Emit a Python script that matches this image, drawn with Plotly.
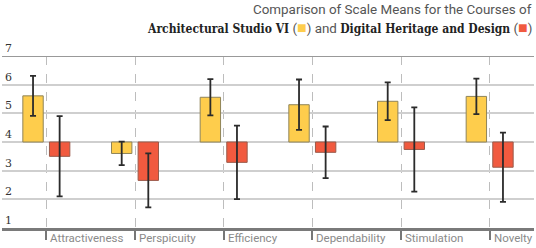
import plotly.graph_objects as go

categories = ["Attractiveness", "Perspicuity", "Efficiency", "Dependability", "Stimulation", "Novelty"]
studio_means = [5.61, 3.60, 5.56, 5.30, 5.42, 5.59]
studio_err = [0.70, 0.41, 0.63, 0.88, 0.66, 0.62]
heritage_means = [3.50, 2.66, 3.29, 3.64, 3.74, 3.12]
heritage_err = [1.40, 0.94, 1.28, 0.90, 1.47, 1.21]
y_ticks = [1, 2, 3, 4, 5, 6, 7]
baseline = 4

YELLOW = "#FECD4C"
RED = "#F15A3F"

idx = list(range(len(categories)))

fig = go.Figure()
fig.add_trace(go.Bar(
    x=idx, y=[m - baseline for m in studio_means], base=baseline,
    offset=-0.265, width=0.23,
    marker=dict(color=YELLOW, line=dict(color="#8f8458", width=1)),
    error_y=dict(type="data", array=studio_err, color="#2b2b2b", thickness=1.8, width=3),
    name="Architectural Studio VI", showlegend=False,
))
fig.add_trace(go.Bar(
    x=idx, y=[m - baseline for m in heritage_means], base=baseline,
    offset=0.035, width=0.23,
    marker=dict(color=RED, line=dict(color="#9a5a4a", width=1)),
    error_y=dict(type="data", array=heritage_err, color="#2b2b2b", thickness=1.8, width=3),
    name="Digital Heritage and Design", showlegend=False,
))

annotations = []
for i, c in enumerate(categories):
    annotations.append(dict(
        x=i, xref="x", y=0, yref="paper", text=c, showarrow=False,
        xanchor="left", yanchor="top", xshift=2, yshift=-1,
        font=dict(family="Roboto", size=11.5, color="#8a8a8a"),
    ))
for v in y_ticks:
    annotations.append(dict(
        x=0, xref="paper", y=v, yref="y", text=str(v), showarrow=False,
        xanchor="left", yanchor="bottom", xshift=1, yshift=-1,
        font=dict(family="DejaVu Serif", size=11, color="#333333"),
    ))

slab = "font-family:'DejaVu Serif Condensed','DejaVu Serif';font-weight:bold;font-size:12px;color:#222"
box = "font-size:16px;"
line2 = (f"<span style=\"{slab}\">Architectural Studio VI</span> "
         f"(<span style='{box}color:{YELLOW}'>■</span>) and "
         f"<span style=\"{slab}\">Digital Heritage and Design</span> "
         f"(<span style='{box}color:{RED}'>■</span>)")
annotations.append(dict(
    x=1, xref="paper", y=1, yref="paper", xanchor="right", yanchor="bottom",
    yshift=37, xshift=0, showarrow=False, align="right",
    text="Comparison of Scale Means for the Courses of",
    font=dict(family="Roboto", size=13.4, color="#555555"),
))
annotations.append(dict(
    x=1, xref="paper", y=1, yref="paper", xanchor="right", yanchor="bottom",
    yshift=17, xshift=0, showarrow=False, align="right",
    text=line2,
    font=dict(family="Roboto", size=13.4, color="#555555"),
))

fig.update_layout(
    width=536, height=248,
    margin=dict(l=2, r=2, t=56, b=20),
    plot_bgcolor="white", paper_bgcolor="white",
    barmode="overlay",
    annotations=annotations,
    xaxis=dict(
        range=[-0.5, 5.5], tickvals=idx, showticklabels=False,
        showgrid=True, gridcolor="#bdbdbd", griddash="dash", gridwidth=1,
        ticks="outside", ticklen=9, tickcolor="#777777", tickwidth=1.5,
        showline=True, linecolor="#7a7a7a", linewidth=2.5, mirror=False,
        zeroline=False, fixedrange=True,
    ),
    yaxis=dict(
        range=[1, 7], tickvals=y_ticks, showticklabels=False,
        showgrid=True, gridcolor="#cfcfcf", gridwidth=1.5,
        zeroline=False, showline=False, fixedrange=True,
    ),
    shapes=[dict(type="line", xref="paper", yref="y", x0=0, x1=1, y0=7, y1=7,
                 line=dict(color="#999999", width=2))],
)

fig.write_html("out.html", config={"displayModeBar": False},
               post_script="document.body.style.margin='0';")
